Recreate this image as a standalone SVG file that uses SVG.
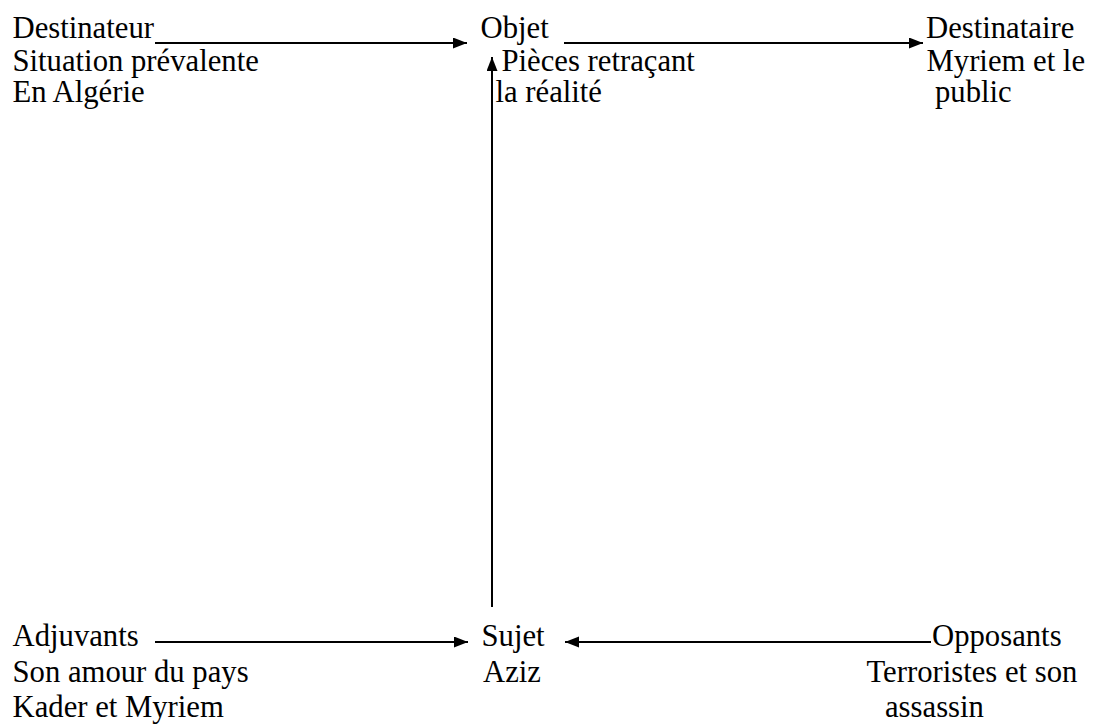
<svg xmlns="http://www.w3.org/2000/svg" width="1093" height="724" viewBox="0 0 1093 724">
  <style>
    .lbl { font-family: 'Liberation Serif', Tinos, 'DejaVu Serif', 'Noto Serif', serif; font-size: 30.7px; fill: #000; }
    .conn { stroke: #000; stroke-width: 2; fill: none; marker-end: url(#head); }
  </style>
  <defs>
    <marker id="head" markerUnits="userSpaceOnUse" markerWidth="15" markerHeight="12" refX="14" refY="5.5" orient="auto">
      <path d="M0,0 L14,5.5 L0,11 z" fill="#000"/>
    </marker>
  </defs>
  <rect width="1093" height="724" fill="#fff"/>

  <g id="connectors">
    <line class="conn" x1="155" y1="43" x2="467" y2="43"/>
    <line class="conn" x1="564" y1="43" x2="923" y2="43"/>
    <line class="conn" x1="492" y1="607" x2="492" y2="57"/>
    <line class="conn" x1="155" y1="642" x2="468" y2="642"/>
    <line class="conn" x1="931" y1="642" x2="565" y2="642"/>
  </g>

  <g class="lbl" font-family="Liberation Serif, serif">
    <g id="destinateur">
      <text x="12.5" y="37.5">Destinateur</text>
      <text x="12.5" y="70.5">Situation prévalente</text>
      <text x="12.5" y="102">En Algérie</text>
    </g>

    <g id="objet">
      <text x="480.5" y="37.5">Objet</text>
      <text x="501.5" y="70.5">Pièces retraçant</text>
      <text x="495.5" y="102">la réalité</text>
    </g>

    <g id="destinataire">
      <text x="926" y="37.5">Destinataire</text>
      <text x="926.5" y="70.5">Myriem et le</text>
      <text x="935" y="102">public</text>
    </g>

    <g id="adjuvants">
      <text x="12.5" y="646">Adjuvants</text>
      <text x="12.5" y="681.5">Son amour du pays</text>
      <text x="12.5" y="717">Kader et Myriem</text>
    </g>

    <g id="sujet">
      <text x="481.5" y="646">Sujet</text>
      <text x="483" y="681.5">Aziz</text>
    </g>

    <g id="opposants">
      <text x="932" y="646">Opposants</text>
      <text x="866.5" y="681.5">Terroristes et son</text>
      <text x="885" y="717">assassin</text>
    </g>
  </g>
</svg>
